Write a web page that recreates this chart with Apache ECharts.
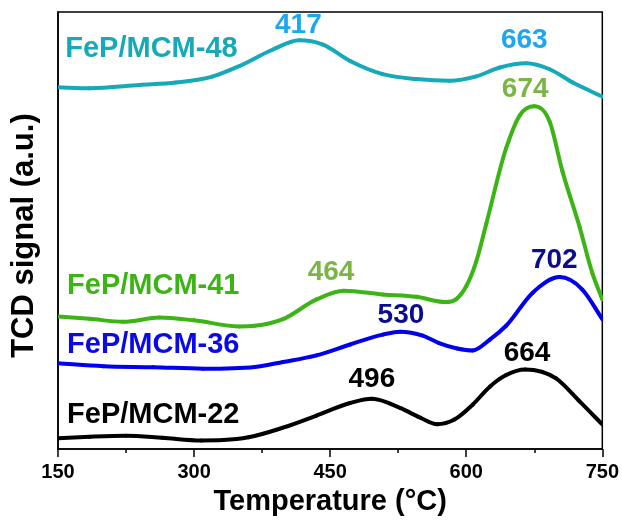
<!DOCTYPE html>
<html>
<head>
<meta charset="utf-8">
<script src="https://cdn.jsdelivr.net/npm/echarts@6/dist/echarts.min.js"></script>
<style>
html,body{margin:0;padding:0;background:#fff;}
#chart{width:622px;height:521px;}
</style>
</head>
<body>
<div id="chart"></div>
<script>
// ---- data (temperature in °C, signal in arbitrary offset units) ----
const temp22 = [150, 185, 225, 265, 308, 332, 360, 398, 435, 472, 496, 527, 549, 568, 587, 607, 626, 644, 665, 699, 725, 750];
const sig22  = [11, 12.5, 13.5, 11.5, 8.8, 9.2, 12, 21.7, 34, 46.7, 51, 41.7, 32, 25.3, 30, 45, 63.3, 75, 80.8, 71.7, 48.3, 25];

const temp36 = [150, 200, 255, 310, 367, 398, 435, 472, 508, 527, 552, 570, 590, 607, 626, 644, 673, 703, 728, 750];
const sig36  = [87, 84, 83, 81.5, 83.3, 88.3, 95, 106, 116, 119, 115, 107.5, 102, 100, 111, 125, 158.3, 174.3, 161.7, 131.7];

const temp41 = [150, 185, 222, 262, 300, 350, 367, 398, 435, 465, 508, 545, 577, 589, 600, 611, 622, 644, 659, 675, 692, 706, 725, 739, 750];
const sig41  = [134.3, 132, 129, 133.3, 130.5, 124.3, 125, 131.7, 151.7, 160.5, 156.7, 154.3, 149, 152, 165, 190, 228, 305, 338.3, 347.5, 331.7, 281.7, 225, 178.3, 151.7];

const temp48 = [150, 185, 240, 280, 320, 350, 387, 416, 442, 472, 508, 545, 582, 611, 637, 666, 692, 717, 750];
const sig48  = [366.7, 365.7, 369, 371.5, 377.5, 388.3, 405, 414.3, 410, 393.3, 380, 375, 373.3, 377.7, 386.7, 391, 385, 371.7, 357.3];

const sampleNames = ['FeP/MCM-48', 'FeP/MCM-41', 'FeP/MCM-36', 'FeP/MCM-22'];
const nameLabelX  = [158, 160, 160, 160];
const nameLabelY  = [406, 165, 105.3, 35];

const peakLabels  = ['417', '663', '674', '464', '530', '702', '496', '664'];
const peakLabelX  = [415, 664, 665, 451, 528, 697, 496, 667];
const peakLabelY  = [430, 414, 364.5, 179, 135.3, 191.7, 70.3, 96.7];

const xTicks = [150, 300, 450, 600, 750];

// ---- styles ----
const FONT = '"Liberation Sans", Arial, sans-serif';
const lineColors = ['#16A9B7', '#3DB416', '#0000EE', '#000000'];
const nameColors = ['#16A9B7', '#3DB416', '#0A0AE6', '#000000'];
const peakColors = ['#1DA7EE', '#1DA7EE', '#7BB545', '#7BB545', '#0C0C8C', '#0C0C8C', '#000000', '#000000'];

// Smooth curve series: each data point is mapped through the axes (api.coord),
// and consecutive points are joined with a monotone cubic Hermite segment.
function curveSeries(xs, ys, color, name, z) {
  const n = xs.length;
  return {
    type: 'custom',
    name: name,
    z: z,
    silent: true,
    clip: true,
    data: xs.map((x, i) => [x, ys[i]]),
    encode: { x: 0, y: 1 },
    renderItem: function (params, api) {
      const i = params.dataIndex;
      if (i >= n - 1) return null;
      const P = k => api.coord([xs[k], ys[k]]);
      const sl = (a, b) => (b[1] - a[1]) / (b[0] - a[0]);
      const tangent = k => {
        if (k === 0) return sl(P(0), P(1));
        if (k === n - 1) return sl(P(n - 2), P(n - 1));
        const a = P(k - 1), b = P(k), c = P(k + 1);
        const d0 = sl(a, b), d1 = sl(b, c);
        if (d0 * d1 <= 0) return 0;
        const h0 = b[0] - a[0], h1 = c[0] - b[0];
        let m = (d0 * h1 + d1 * h0) / (h0 + h1);
        const lim = 3 * Math.min(Math.abs(d0), Math.abs(d1));
        if (Math.abs(m) > lim) m = Math.sign(m) * lim;
        return m;
      };
      const p0 = P(i), p1 = P(i + 1);
      const h = p1[0] - p0[0];
      const m0 = tangent(i), m1 = tangent(i + 1);
      return {
        type: 'bezierCurve',
        shape: {
          x1: p0[0], y1: p0[1], x2: p1[0], y2: p1[1],
          cpx1: p0[0] + h / 3, cpy1: p0[1] + m0 * h / 3,
          cpx2: p1[0] - h / 3, cpy2: p1[1] - m1 * h / 3
        },
        style: { stroke: color, lineWidth: 4, fill: null, lineCap: 'round' }
      };
    }
  };
}

const series = [
  curveSeries(temp48, sig48, lineColors[0], sampleNames[0], 2),
  curveSeries(temp41, sig41, lineColors[1], sampleNames[1], 3),
  curveSeries(temp36, sig36, lineColors[2], sampleNames[2], 4),
  curveSeries(temp22, sig22, lineColors[3], sampleNames[3], 5)
];

function labelSeries(texts, xs, ys, colors, size, align) {
  return {
    type: 'scatter',
    symbolSize: 0,
    silent: true,
    z: 10,
    itemStyle: { opacity: 1 },
    data: texts.map((t, i) => ({
      value: [xs[i], ys[i]],
      name: t,
      itemStyle: { opacity: 1 },
      label: {
        show: true, position: 'inside', formatter: t, align: align,
        verticalAlign: 'middle', color: colors[i], opacity: 1,
        fontFamily: FONT, fontWeight: 'bold', fontSize: size
      }
    }))
  };
}

series.push(labelSeries(sampleNames, nameLabelX, nameLabelY, nameColors, 29, 'left'));
series.push(labelSeries(peakLabels, peakLabelX, peakLabelY, peakColors, 28, 'center'));

const chart = echarts.init(document.getElementById('chart'), null, { renderer: 'canvas' });
chart.setOption({
  animation: false,
  backgroundColor: '#fff',
  grid: {
    left: 58, right: 19, top: 12, bottom: 66,
    show: true, borderColor: '#000', borderWidth: 1.5, backgroundColor: 'transparent'
  },
  xAxis: {
    type: 'value',
    min: xTicks[0], max: xTicks[xTicks.length - 1], interval: 150,
    name: 'Temperature (°C)',
    nameLocation: 'middle', nameGap: 33,
    nameTextStyle: { fontFamily: FONT, fontWeight: 'bold', fontSize: 29, color: '#000' },
    axisLine: { show: true, lineStyle: { color: '#000', width: 1.5 } },
    axisTick: { show: true, inside: false, length: 8, lineStyle: { color: '#000', width: 1.5 } },
    minorTick: { show: true, splitNumber: 2, length: 4, lineStyle: { color: '#000', width: 1.5 } },
    axisLabel: { margin: 13, fontFamily: FONT, fontWeight: 'bold', fontSize: 20, color: '#000' },
    splitLine: { show: false }
  },
  yAxis: {
    type: 'value',
    min: 0, max: 443,
    name: 'TCD signal (a.u.)',
    nameLocation: 'middle', nameGap: 18, nameRotate: 90,
    nameTextStyle: { fontFamily: FONT, fontWeight: 'bold', fontSize: 31, color: '#000', padding: [0, 10, 0, 0] },
    axisLine: { show: true, lineStyle: { color: '#000', width: 1.5 } },
    axisTick: { show: false },
    axisLabel: { show: false },
    splitLine: { show: false }
  },
  series: series
});
</script>
</body>
</html>
